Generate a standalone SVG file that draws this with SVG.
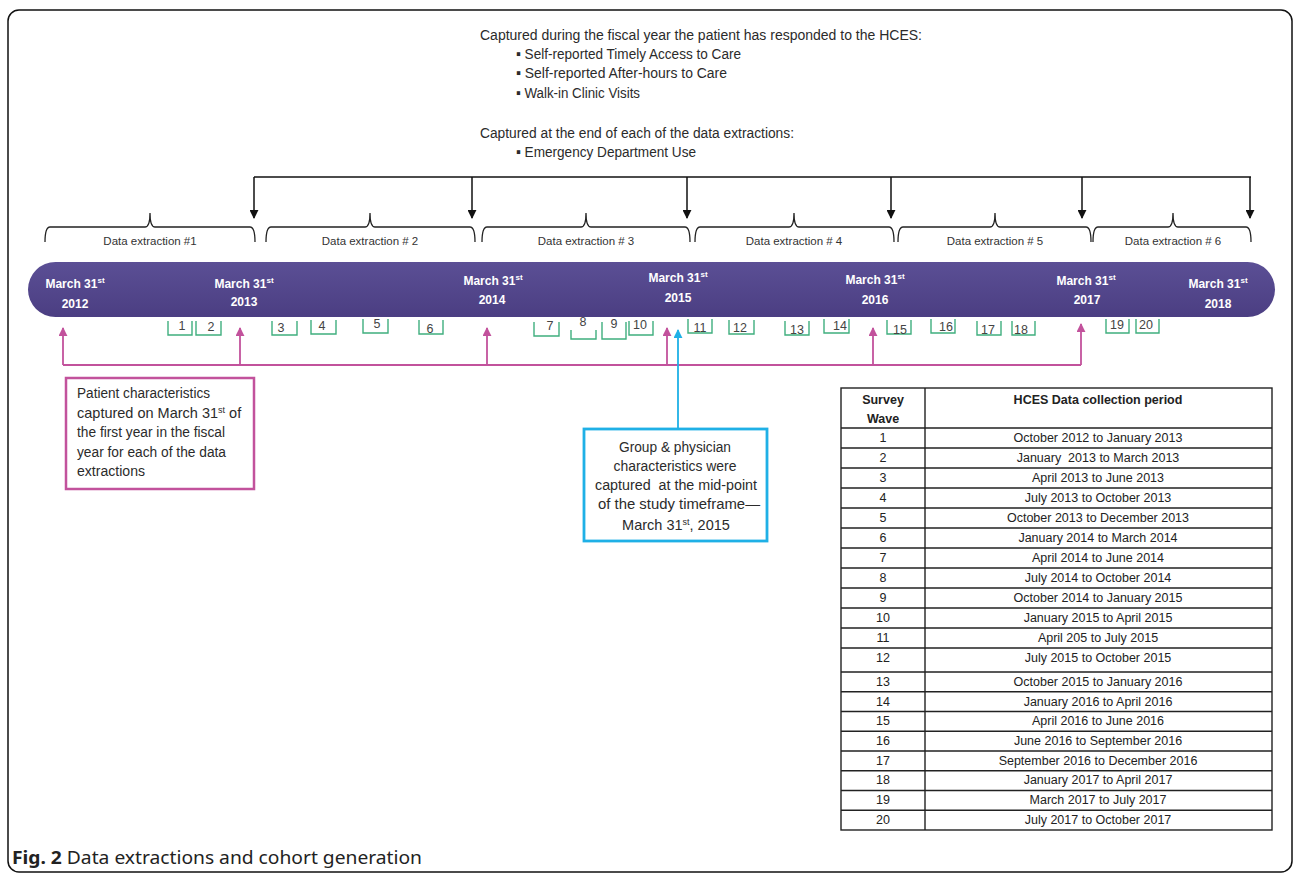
<svg xmlns="http://www.w3.org/2000/svg" width="1296" height="875" viewBox="0 0 1296 875">
<defs>
<linearGradient id="barGrad" x1="0" y1="0" x2="0" y2="1">
<stop offset="0" stop-color="#5b4f95"/>
<stop offset="1" stop-color="#4b3e82"/>
</linearGradient>
<marker id="arrK" viewBox="0 0 10 10" refX="9" refY="5" markerWidth="9" markerHeight="9" markerUnits="userSpaceOnUse" orient="auto"><path d="M0,0 L10,5 L0,10 Z" fill="#111"/></marker>
<marker id="arrP" viewBox="0 0 10 10" refX="9" refY="5" markerWidth="9" markerHeight="9" markerUnits="userSpaceOnUse" orient="auto"><path d="M0,0 L10,5 L0,10 Z" fill="#c2529c"/></marker>
<marker id="arrB" viewBox="0 0 10 10" refX="9" refY="5" markerWidth="9" markerHeight="9" markerUnits="userSpaceOnUse" orient="auto"><path d="M0,0 L10,5 L0,10 Z" fill="#1fb0e6"/></marker>
</defs>
<style>
.cond{font-family:"Liberation Sans",Arial,sans-serif;font-size:15.5px;fill:#2b2b2b}
.cs{font-family:"Liberation Sans",Arial,sans-serif;font-size:14.5px;fill:#2b2b2b}
.ext{font-family:"Liberation Sans",Arial,sans-serif;font-size:11.5px;fill:#333;text-anchor:middle}
.mar{font-family:"Liberation Sans",Arial,sans-serif;font-size:12px;font-weight:bold;fill:#fff;text-anchor:middle}
.sup{font-size:8px}
.brace{fill:none;stroke:#222;stroke-width:1.3}
.wave{fill:none;stroke:#3fae7e;stroke-width:1.4}
.wnum{font-family:"Liberation Sans",Arial,sans-serif;font-size:12.5px;fill:#444;text-anchor:middle}
.kline{fill:none;stroke:#111;stroke-width:1.5}
.pline{fill:none;stroke:#c2529c;stroke-width:1.8}
.bline{fill:none;stroke:#1fb0e6;stroke-width:1.8}
.tbl{fill:none;stroke:#222;stroke-width:1.4}
.tc{font-family:"Liberation Sans",Arial,sans-serif;font-size:12.5px;fill:#222;text-anchor:middle}
.th{font-family:"Liberation Sans",Arial,sans-serif;font-size:12.5px;font-weight:bold;fill:#222;text-anchor:middle}
</style>
<rect x="8" y="10" width="1284" height="862" rx="11" fill="#fff" stroke="#111" stroke-width="1.5"/>

<g id="top-notes">
<text class="cond" x="480" y="40" textLength="442" lengthAdjust="spacingAndGlyphs">Captured during the fiscal year the patient has responded to the HCES:</text>
<text class="cond" x="516" y="59" textLength="225" lengthAdjust="spacingAndGlyphs">▪ Self-reported Timely Access to Care</text>
<text class="cond" x="516" y="78" textLength="211" lengthAdjust="spacingAndGlyphs">▪ Self-reported After-hours to Care</text>
<text class="cond" x="516" y="98" textLength="124" lengthAdjust="spacingAndGlyphs">▪ Walk-in Clinic Visits</text>
<text class="cond" x="480" y="138" textLength="314" lengthAdjust="spacingAndGlyphs">Captured at the end of each of the data extractions:</text>
<text class="cond" x="516" y="157" textLength="180" lengthAdjust="spacingAndGlyphs">▪ Emergency Department Use</text>
</g>

<g id="extractions">
<path class="brace" d="M45,242 Q45,227 50,227 L145,227 Q150,227 150,213 Q150,227 155,227 L250,227 Q255,227 255,242"/>
<text class="ext" x="150" y="245">Data extraction #1</text>
<path class="brace" d="M266,242 Q266,227 271,227 L365,227 Q370,227 370,213 Q370,227 375,227 L470,227 Q475,227 475,242"/>
<text class="ext" x="370" y="245">Data extraction # 2</text>
<path class="brace" d="M482,242 Q482,227 487,227 L581,227 Q586,227 586,213 Q586,227 591,227 L685,227 Q690,227 690,242"/>
<text class="ext" x="586" y="245">Data extraction # 3</text>
<path class="brace" d="M695,242 Q695,227 700,227 L789,227 Q794,227 794,213 Q794,227 799,227 L889,227 Q894,227 894,242"/>
<text class="ext" x="794" y="245">Data extraction # 4</text>
<path class="brace" d="M898,242 Q898,227 903,227 L990,227 Q995,227 995,213 Q995,227 1000,227 L1086,227 Q1091,227 1091,242"/>
<text class="ext" x="995" y="245">Data extraction # 5</text>
<path class="brace" d="M1093,242 Q1093,227 1098,227 L1168,227 Q1173,227 1173,213 Q1173,227 1178,227 L1246,227 Q1251,227 1251,242"/>
<text class="ext" x="1173" y="245">Data extraction # 6</text>
</g>

<g id="timeline">
<rect x="28" y="262" width="1247" height="55" rx="27.5" fill="url(#barGrad)"/>
<text class="mar" x="75" y="288">March 31<tspan class="sup" dy="-5">st</tspan></text>
<text class="mar" x="75" y="308">2012</text>
<text class="mar" x="244" y="288">March 31<tspan class="sup" dy="-5">st</tspan></text>
<text class="mar" x="244" y="306">2013</text>
<text class="mar" x="493" y="285">March 31<tspan class="sup" dy="-5">st</tspan></text>
<text class="mar" x="492" y="304">2014</text>
<text class="mar" x="678" y="282">March 31<tspan class="sup" dy="-5">st</tspan></text>
<text class="mar" x="678" y="302">2015</text>
<text class="mar" x="875" y="284">March 31<tspan class="sup" dy="-5">st</tspan></text>
<text class="mar" x="875" y="304">2016</text>
<text class="mar" x="1086" y="285">March 31<tspan class="sup" dy="-5">st</tspan></text>
<text class="mar" x="1087" y="304">2017</text>
<text class="mar" x="1218" y="288">March 31<tspan class="sup" dy="-5">st</tspan></text>
<text class="mar" x="1218" y="308">2018</text>
</g>

<g id="waves">
<path class="wave" d="M168,321 V335 H192 V321"/><text class="wnum" x="182" y="330">1</text>
<path class="wave" d="M196,321 V335 H221 V321"/><text class="wnum" x="211" y="331">2</text>
<path class="wave" d="M272,321 V335 H297 V321"/><text class="wnum" x="281" y="332">3</text>
<path class="wave" d="M311,320 V334 H336 V320"/><text class="wnum" x="322" y="330">4</text>
<path class="wave" d="M363,319 V333 H388 V319"/><text class="wnum" x="377" y="328">5</text>
<path class="wave" d="M419,320 V334 H443 V320"/><text class="wnum" x="430" y="333">6</text>
<path class="wave" d="M534,322 V336 H559 V322"/><text class="wnum" x="550" y="330">7</text>
<path class="wave" d="M571,330 V339 H596 V330"/><text class="wnum" x="583" y="326">8</text>
<path class="wave" d="M602,322 V339 H626 V322"/><text class="wnum" x="614" y="328">9</text>
<path class="wave" d="M629,321 V335 H653 V321"/><text class="wnum" x="640" y="329">10</text>
<path class="wave" d="M688,319 V333 H712 V319"/><text class="wnum" x="700" y="332">11</text>
<path class="wave" d="M729,320 V334 H754 V320"/><text class="wnum" x="740" y="332">12</text>
<path class="wave" d="M785,321 V335 H809 V321"/><text class="wnum" x="797" y="334">13</text>
<path class="wave" d="M824,319 V333 H849 V319"/><text class="wnum" x="840" y="330">14</text>
<path class="wave" d="M887,320 V334 H911 V320"/><text class="wnum" x="900" y="334">15</text>
<path class="wave" d="M931,319 V333 H955 V319"/><text class="wnum" x="946" y="331">16</text>
<path class="wave" d="M977,321 V335 H1001 V321"/><text class="wnum" x="988" y="334">17</text>
<path class="wave" d="M1012,321 V335 H1035 V321"/><text class="wnum" x="1021" y="334">18</text>
<path class="wave" d="M1106,319 V333 H1129 V319"/><text class="wnum" x="1117" y="329">19</text>
<path class="wave" d="M1136,319 V333 H1159 V319"/><text class="wnum" x="1146" y="329">20</text>
</g>

<g id="connectors">
<path class="kline" d="M254,177 H1251"/>
<path class="kline" d="M254,177 V218" marker-end="url(#arrK)"/>
<path class="kline" d="M472,177 V218" marker-end="url(#arrK)"/>
<path class="kline" d="M687,177 V218" marker-end="url(#arrK)"/>
<path class="kline" d="M891,177 V218" marker-end="url(#arrK)"/>
<path class="kline" d="M1082,177 V218" marker-end="url(#arrK)"/>
<path class="kline" d="M1250,177 V218" marker-end="url(#arrK)"/>
<path class="pline" d="M63,365 H1081"/>
<path class="pline" d="M63,365 V328" marker-end="url(#arrP)"/>
<path class="pline" d="M240,365 V328" marker-end="url(#arrP)"/>
<path class="pline" d="M487,365 V328" marker-end="url(#arrP)"/>
<path class="pline" d="M667,365 V328" marker-end="url(#arrP)"/>
<path class="pline" d="M873,365 V328" marker-end="url(#arrP)"/>
<path class="pline" d="M1081,365 V324" marker-end="url(#arrP)"/>
<path class="bline" d="M678,429 V330" marker-end="url(#arrB)"/>
</g>

<g id="patient-box">
<rect x="66" y="378" width="188" height="111" fill="#fff" stroke="#c2529c" stroke-width="2.5"/>
<text class="cond" x="77" y="398" textLength="133" lengthAdjust="spacingAndGlyphs">Patient characteristics</text>
<text class="cs" x="77" y="418">captured on March 31<tspan font-size="9" dy="-5">st</tspan><tspan dy="5"> of</tspan></text>
<text class="cond" x="77" y="437" textLength="148" lengthAdjust="spacingAndGlyphs">the first year in the fiscal</text>
<text class="cond" x="77" y="457" textLength="149" lengthAdjust="spacingAndGlyphs">year for each of the data</text>
<text class="cond" x="77" y="476" textLength="68" lengthAdjust="spacingAndGlyphs">extractions</text>
</g>

<g id="group-box">
<rect x="584" y="429" width="183" height="112" fill="#fff" stroke="#1fb0e6" stroke-width="2.8"/>
<text class="cond" x="675" y="452" text-anchor="middle" textLength="112" lengthAdjust="spacingAndGlyphs">Group &amp; physician</text>
<text class="cond" x="675" y="471" text-anchor="middle" textLength="123" lengthAdjust="spacingAndGlyphs">characteristics were</text>
<text class="cond" x="676" y="490" text-anchor="middle" textLength="162" lengthAdjust="spacingAndGlyphs">captured&#160; at the mid-point</text>
<text class="cond" x="679" y="509" text-anchor="middle" textLength="162" lengthAdjust="spacingAndGlyphs">of the study timeframe—</text>
<text class="cs" x="676" y="530" text-anchor="middle">March 31<tspan font-size="9" dy="-5">st</tspan><tspan dy="5">, 2015</tspan></text>
</g>

<g id="table">
<rect class="tbl" x="841" y="388" width="431" height="442"/>
<path class="tbl" d="M925,388 V830 M841,428 H1272 M841,448 H1272 M841,468 H1272 M841,488 H1272 M841,508 H1272 M841,528 H1272 M841,548 H1272 M841,568 H1272 M841,588 H1272 M841,608 H1272 M841,628 H1272 M841,648 H1272 M841,672 H1272 M841,691.75 H1272 M841,711.5 H1272 M841,731.25 H1272 M841,751 H1272 M841,770.75 H1272 M841,790.5 H1272 M841,810.25 H1272"/>
<text class="th" x="883" y="404">Survey</text>
<text class="th" x="883" y="423">Wave</text>
<text class="th" x="1098" y="404">HCES Data collection period</text>
<text class="tc" x="883" y="442">1</text><text class="tc" x="1098" y="442">October 2012 to January 2013</text>
<text class="tc" x="883" y="462">2</text><text class="tc" x="1098" y="462">January&#160; 2013 to March 2013</text>
<text class="tc" x="883" y="482">3</text><text class="tc" x="1098" y="482">April 2013 to June 2013</text>
<text class="tc" x="883" y="502">4</text><text class="tc" x="1098" y="502">July 2013 to October 2013</text>
<text class="tc" x="883" y="522">5</text><text class="tc" x="1098" y="522">October 2013 to December 2013</text>
<text class="tc" x="883" y="542">6</text><text class="tc" x="1098" y="542">January 2014 to March 2014</text>
<text class="tc" x="883" y="562">7</text><text class="tc" x="1098" y="562">April 2014 to June 2014</text>
<text class="tc" x="883" y="582">8</text><text class="tc" x="1098" y="582">July 2014 to October 2014</text>
<text class="tc" x="883" y="602">9</text><text class="tc" x="1098" y="602">October 2014 to January 2015</text>
<text class="tc" x="883" y="622">10</text><text class="tc" x="1098" y="622">January 2015 to April 2015</text>
<text class="tc" x="883" y="642">11</text><text class="tc" x="1098" y="642">April 205 to July 2015</text>
<text class="tc" x="883" y="662">12</text><text class="tc" x="1098" y="662">July 2015 to October 2015</text>
<text class="tc" x="883" y="686">13</text><text class="tc" x="1098" y="686">October 2015 to January 2016</text>
<text class="tc" x="883" y="706">14</text><text class="tc" x="1098" y="706">January 2016 to April 2016</text>
<text class="tc" x="883" y="725">15</text><text class="tc" x="1098" y="725">April 2016 to June 2016</text>
<text class="tc" x="883" y="745">16</text><text class="tc" x="1098" y="745">June 2016 to September 2016</text>
<text class="tc" x="883" y="765">17</text><text class="tc" x="1098" y="765">September 2016 to December 2016</text>
<text class="tc" x="883" y="784">18</text><text class="tc" x="1098" y="784">January 2017 to April 2017</text>
<text class="tc" x="883" y="804">19</text><text class="tc" x="1098" y="804">March 2017 to July 2017</text>
<text class="tc" x="883" y="824">20</text><text class="tc" x="1098" y="824">July 2017 to October 2017</text>
</g>

<g id="caption">
<text x="12" y="864" font-family="'Noto Sans','Open Sans',sans-serif" font-size="18" fill="#222" textLength="410" lengthAdjust="spacingAndGlyphs"><tspan font-weight="bold">Fig. 2</tspan> Data extractions and cohort generation</text>
</g>
</svg>
